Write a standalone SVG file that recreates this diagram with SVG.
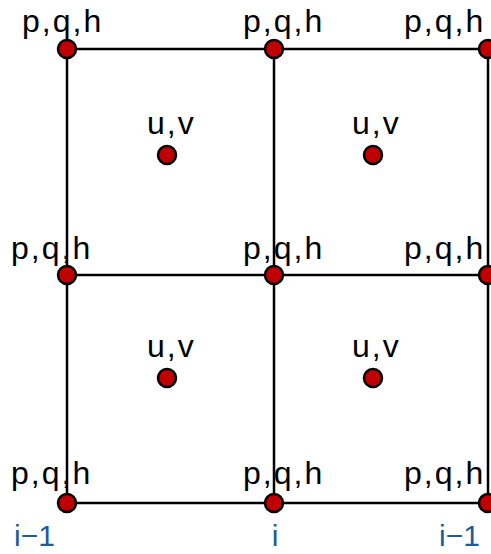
<svg xmlns="http://www.w3.org/2000/svg" width="491" height="554" viewBox="0 0 491 554">
<style>
.t{font-family:"Liberation Sans",Arial,sans-serif;font-size:32px;letter-spacing:2px;fill:#000}
.b{font-family:"Liberation Sans",Arial,sans-serif;font-size:30px;fill:#1f5b99}
.n{fill:#c00000;stroke:#000;stroke-width:2.5}
.l{stroke:#000;stroke-width:2.5;fill:none}
</style>
<rect width="491" height="554" fill="#fff"/>
<g id="connectors">
<path class="l" d="M67,49H488M67,275H488M67,503H488M67,49V503M274,49V503M488,49V503"/>
</g>
<g id="n00"><circle class="n" cx="67" cy="49" r="9"/><text class="t" x="22" y="32">p,q,h</text></g>
<g id="n10"><circle class="n" cx="274" cy="49" r="9"/><text class="t" x="243" y="32">p,q,h</text></g>
<g id="n20"><circle class="n" cx="488" cy="49" r="9"/><text class="t" x="404" y="32">p,q,h</text></g>
<g id="n01"><circle class="n" cx="67" cy="275" r="9"/><text class="t" x="11" y="259">p,q,h</text></g>
<g id="n11"><circle class="n" cx="274" cy="275" r="9"/><text class="t" x="243" y="259">p,q,h</text></g>
<g id="n21"><circle class="n" cx="488" cy="275" r="9"/><text class="t" x="404" y="259">p,q,h</text></g>
<g id="n02"><circle class="n" cx="67" cy="503" r="9"/><text class="t" x="11" y="484">p,q,h</text></g>
<g id="n12"><circle class="n" cx="274" cy="503" r="9"/><text class="t" x="243" y="484">p,q,h</text></g>
<g id="n22"><circle class="n" cx="488" cy="503" r="9"/><text class="t" x="404" y="484">p,q,h</text></g>
<g id="c00"><circle class="n" cx="167" cy="155" r="9"/><text class="t" x="147" y="134">u,v</text></g>
<g id="c10"><circle class="n" cx="373" cy="155" r="9"/><text class="t" x="352" y="134">u,v</text></g>
<g id="c01"><circle class="n" cx="167" cy="378" r="9"/><text class="t" x="147" y="357">u,v</text></g>
<g id="c11"><circle class="n" cx="373" cy="378" r="9"/><text class="t" x="352" y="357">u,v</text></g>
<g id="labels">
<text class="b" x="14" y="546">i−1</text>
<text class="b" x="275" y="546" text-anchor="middle">i</text>
<text class="b" x="439" y="546">i−1</text>
</g>
</svg>
